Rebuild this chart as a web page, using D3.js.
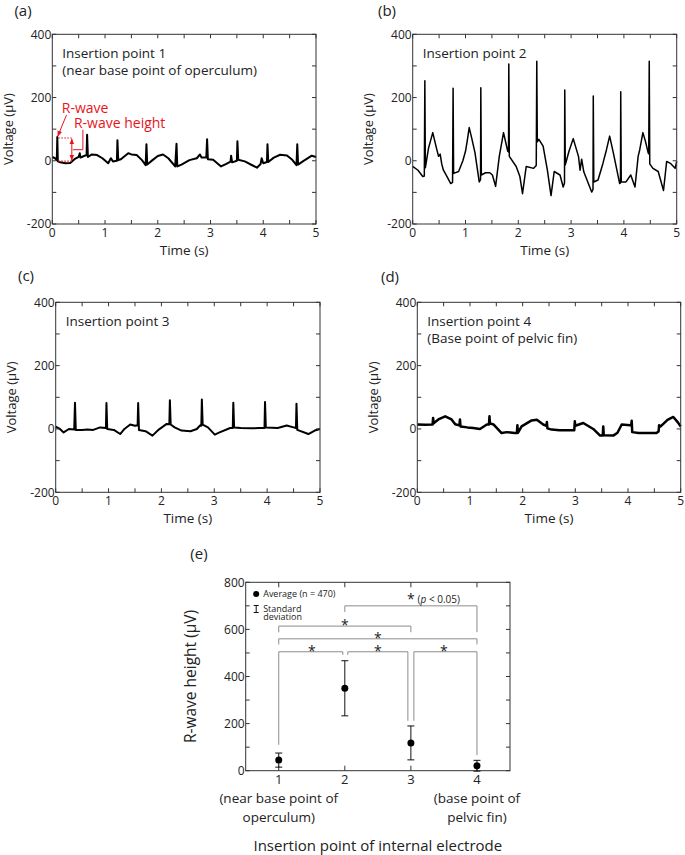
<!DOCTYPE html>
<html><head><meta charset="utf-8">
<script src="https://cdn.jsdelivr.net/npm/d3@7"></script>
<style>
body{margin:0;background:#fff;}
svg{display:block;font-family:"Open Sans","Noto Sans",sans-serif;}
</style></head><body>
<svg id="chart" width="685" height="855"></svg>
<script>
// ---------- DATA ----------
const timeTicks = [0,1,2,3,4,5];
const voltTicks = [-200,0,200,400];
const panelLetters = ["(a)","(b)","(c)","(d)"];
const panelTitles = [
  ["Insertion point 1","(near base point of operculum)"],
  ["Insertion point 2"],
  ["Insertion point 3"],
  ["Insertion point 4","(Base point of pelvic fin)"]
];
// traces: [time (s), voltage (µV)]
const traceA = [[0,12],[0.05,8],[0.085,2],[0.095,75],[0.105,-2],[0.15,-5],[0.25,-8],[0.34,-7],[0.42,5],[0.5,12],[0.52,24],[0.535,10],[0.6,15],[0.65,18],[0.66,82],[0.675,12],[0.75,20],[0.85,18],[0.95,8],[1.06,-8],[1.11,8],[1.15,-2],[1.225,0],[1.235,65],[1.25,2],[1.3,5],[1.44,24],[1.5,20],[1.6,18],[1.7,2],[1.77,-14],[1.785,52],[1.8,-12],[1.9,2],[2.0,15],[2.1,20],[2.2,8],[2.33,-18],[2.355,54],[2.37,-18],[2.45,-12],[2.6,2],[2.74,8],[2.8,20],[2.83,10],[2.92,10],[2.935,68],[2.95,5],[3.05,3],[3.2,-18],[3.3,-10],[3.38,-3],[3.39,16],[3.41,-5],[3.5,0],[3.51,62],[3.525,3],[3.65,-2],[3.8,-15],[3.88,-22],[3.95,-10],[3.97,8],[4.0,-8],[4.07,-4],[4.08,52],[4.095,-4],[4.2,10],[4.32,19],[4.45,17],[4.55,3],[4.63,-14],[4.645,52],[4.66,-12],[4.75,-2],[4.92,16],[5.0,12]];
const traceB = [[0,-18],[0.1,-30],[0.19,-50],[0.22,-48],[0.23,253],[0.24,-22],[0.3,40],[0.38,89],[0.45,40],[0.49,14],[0.52,21],[0.55,-10],[0.58,-29],[0.65,-50],[0.72,-72],[0.755,-68],[0.765,229],[0.775,-40],[0.87,-34],[0.95,0],[1.0,30],[1.03,60],[1.07,105],[1.12,70],[1.18,25],[1.26,-67],[1.285,-60],[1.29,231],[1.3,-45],[1.38,-38],[1.46,-38],[1.51,-45],[1.57,-81],[1.64,14],[1.72,89],[1.8,30],[1.815,28],[1.82,306],[1.83,14],[1.96,-18],[2.03,-50],[2.08,-104],[2.15,-18],[2.29,-24],[2.34,-15],[2.35,315],[2.36,60],[2.39,68],[2.47,46],[2.55,-29],[2.62,-110],[2.68,-34],[2.79,-45],[2.85,-83],[2.875,-70],[2.88,224],[2.89,-13],[2.96,30],[3.04,70],[3.14,14],[3.17,-30],[3.2,5],[3.24,-35],[3.39,-99],[3.415,-90],[3.42,205],[3.43,-67],[3.51,-61],[3.6,-10],[3.67,35],[3.73,78],[3.8,25],[3.92,-72],[3.935,-70],[3.94,218],[3.95,-67],[4.04,-67],[4.13,-45],[4.21,-83],[4.27,14],[4.3,35],[4.36,89],[4.41,60],[4.46,25],[4.47,22],[4.48,315],[4.49,-10],[4.55,-24],[4.65,-34],[4.75,-94],[4.81,-2],[4.88,-8],[4.97,-24],[5.0,-2]];
const traceC = [[0,7],[0.08,0],[0.15,-11],[0.25,0],[0.35,-2],[0.365,83],[0.38,-3],[0.5,-3],[0.6,-2],[0.71,-3],[0.84,5],[0.95,3],[0.96,82],[0.975,0],[1.1,-3],[1.22,-16],[1.3,0],[1.41,14],[1.5,10],[1.55,12],[1.56,82],[1.575,-3],[1.7,-7],[1.83,-21],[1.95,-2],[2.1,16],[2.15,15],[2.16,91],[2.175,14],[2.25,5],[2.38,-5],[2.55,-7],[2.67,0],[2.73,11],[2.755,10],[2.765,93],[2.78,14],[2.88,5],[3.01,-18],[3.1,-11],[3.3,3],[3.35,3],[3.36,83],[3.375,5],[3.5,3],[3.7,2],[3.85,3],[3.95,3],[3.96,85],[3.975,5],[4.2,3],[4.37,11],[4.5,5],[4.545,3],[4.555,80],[4.57,-3],[4.78,-16],[4.9,-5],[5.0,0]];
const traceD = [[0,14],[0.15,13],[0.27,14],[0.29,14],[0.3,35],[0.31,18],[0.4,30],[0.53,40],[0.65,30],[0.72,15],[0.78,12],[0.8,12],[0.81,30],[0.82,8],[0.95,5],[1.06,3],[1.19,0],[1.32,14],[1.36,14],[1.37,40],[1.38,17],[1.45,14],[1.6,-13],[1.7,-10],[1.85,-13],[1.89,-13],[1.9,12],[1.91,-12],[1.98,8],[2.17,27],[2.27,29],[2.39,14],[2.45,10],[2.46,22],[2.47,2],[2.55,-2],[2.7,-4],[2.9,-4],[2.98,-4],[2.99,24],[3.0,10],[3.15,19],[3.34,0],[3.47,-21],[3.52,-21],[3.53,8],[3.54,-20],[3.72,-21],[3.8,-12],[3.88,14],[4.04,12],[4.06,12],[4.07,26],[4.08,-10],[4.2,-13],[4.54,-13],[4.58,-8],[4.59,12],[4.62,8],[4.75,29],[4.86,38],[4.95,20],[5.0,8]];
// R-wave annotation (panel a): spike time, peak, baseline, measuring time
const rWave = {t:0.095, peak:72, base:-1, tMeas:0.37};

// panel (e)
const sites = [1,2,3,4];
const siteLabels = [["(near base point of","operculum)"],[],[],["(base point of","pelvic fin)"]];
const meanHeight = [45,350,118,21];
const sdHeight = [30,117,72,23];
const heightTicks = [0,200,400,600,800];
// significance brackets: [from, to, level, leg end at from, leg end at to, label]
const brackets = [
  [1,2,505,110,492,"*"],
  [2,3,505,492,212,"*"],
  [3,4,505,212,66,"*"],
  [1,4,560,536,536,"*"],
  [1,3,614,588,588,"*"],
  [2,4,700,674,588,"*p"]
];

// ---------- LAYOUT ----------
const svg = d3.select("#chart");
const panels = [
  {trace:traceA, x0:52.3, x1:316, yTop:34.3, yBot:224, lab:[23,11], sw:2.0},
  {trace:traceB, x0:412.7, x1:676.7, yTop:34.3, yBot:224, lab:[387,11], sw:1.5},
  {trace:traceC, x0:55.7, x1:320, yTop:302.3, yBot:492.3, lab:[26,276], sw:2.0},
  {trace:traceD, x0:417.3, x1:680.7, yTop:302.3, yBot:492.3, lab:[390,277], sw:2.5}
];
const red = "#e8141c";

panels.forEach((p,i)=>{
  const x = d3.scaleLinear().domain([0,5]).range([p.x0,p.x1]);
  const y = d3.scaleLinear().domain([-200,400]).range([p.yBot,p.yTop]);
  const g = svg.append("g");
  // trace
  g.append("path").datum(p.trace)
    .attr("d", d3.line().x(d=>x(d[0])).y(d=>y(d[1])))
    .attr("fill","none").attr("stroke","#000").attr("stroke-width",p.sw)
    .attr("stroke-linejoin","round");
  // frame
  g.append("rect").attr("x",p.x0).attr("y",p.yTop).attr("width",p.x1-p.x0).attr("height",p.yBot-p.yTop)
    .attr("fill","none").attr("stroke","#333").attr("stroke-width",1);
  // ticks inward
  const xt = d3.range(0,5.01,0.5), yt = d3.range(-200,401,100);
  xt.forEach(v=>{
    g.append("line").attr("x1",x(v)).attr("x2",x(v)).attr("y1",p.yBot).attr("y2",p.yBot-4).attr("stroke","#333");
    g.append("line").attr("x1",x(v)).attr("x2",x(v)).attr("y1",p.yTop).attr("y2",p.yTop+4).attr("stroke","#333");
  });
  yt.forEach(v=>{
    g.append("line").attr("x1",p.x0).attr("x2",p.x0+4).attr("y1",y(v)).attr("y2",y(v)).attr("stroke","#333");
    g.append("line").attr("x1",p.x1).attr("x2",p.x1-4).attr("y1",y(v)).attr("y2",y(v)).attr("stroke","#333");
  });
  // tick labels
  g.selectAll(".xl").data(timeTicks).enter().append("text")
    .attr("x",d=>x(d)).attr("y",p.yBot+12.5).attr("text-anchor","middle")
    .attr("font-size",12).attr("fill","#222").text(d=>d);
  g.selectAll(".yl").data(voltTicks).enter().append("text")
    .attr("x",p.x0-1).attr("y",d=>y(d)).attr("dy","0.35em").attr("text-anchor","end")
    .attr("font-size",12).attr("fill","#222").text(d=>d);
  // axis titles
  g.append("text").attr("x",(p.x0+p.x1)/2).attr("y",p.yBot+31).attr("text-anchor","middle")
    .attr("font-size",13.5).attr("fill","#222").text("Time (s)");
  g.append("text").attr("transform",`translate(${p.x0-44},${(p.yTop+p.yBot)/2}) rotate(-90)`)
    .attr("dy","0.35em").attr("text-anchor","middle").attr("font-size",13).attr("fill","#222").text("Voltage (μV)");
  // panel letter
  svg.append("text").attr("x",p.lab[0]).attr("y",p.lab[1]).attr("dy","0.35em").attr("text-anchor","middle")
    .attr("font-size",15).attr("fill","#222").text(panelLetters[i]);
  // in-plot titles
  panelTitles[i].forEach((s,k)=>{
    g.append("text").attr("x",p.x0+10).attr("y",p.yTop+23.5+k*17.5)
      .attr("font-size",13.5).attr("fill","#222").text(s);
  });
  if(i===0){
    // R-wave annotation
    const a = svg.append("g");
    const defs = svg.append("defs");
    defs.append("marker").attr("id","arr").attr("viewBox","0 0 10 10").attr("refX",9).attr("refY",5)
      .attr("markerWidth",6).attr("markerHeight",6).attr("orient","auto-start-reverse")
      .append("path").attr("d","M0,1 L10,5 L0,9 Z").attr("fill",red);
    a.append("line").attr("x1",x(rWave.t)+1).attr("x2",x(rWave.tMeas)).attr("y1",y(rWave.peak)).attr("y2",y(rWave.peak))
      .attr("stroke",red).attr("stroke-width",1.2).attr("stroke-dasharray","1.5,1.5");
    a.append("line").attr("x1",x(rWave.t)+1).attr("x2",x(rWave.tMeas)).attr("y1",y(rWave.base)).attr("y2",y(rWave.base))
      .attr("stroke",red).attr("stroke-width",1.2).attr("stroke-dasharray","1.5,1.5");
    a.append("line").attr("x1",x(rWave.tMeas)).attr("x2",x(rWave.tMeas)).attr("y1",y(rWave.peak)+1).attr("y2",y(rWave.base)-1)
      .attr("stroke",red).attr("stroke-width",1).attr("marker-start","url(#arr)").attr("marker-end","url(#arr)");
    a.append("line").attr("x1",x(0.27)).attr("y1",y(145)).attr("x2",x(rWave.t)+0.5).attr("y2",y(rWave.peak+6))
      .attr("stroke",red).attr("stroke-width",1).attr("marker-end","url(#arr)");
    a.append("path").attr("d",`M${x(0.58)},${y(98)} L${x(0.58)},${y(35)} L${x(rWave.tMeas)+1},${y(35)}`)
      .attr("fill","none").attr("stroke",red).attr("stroke-width",1);
    a.append("text").attr("x",x(0.18)).attr("y",y(152)).attr("font-size",14).attr("fill",red).text("R-wave");
    a.append("text").attr("x",x(0.41)).attr("y",y(104)).attr("font-size",14).attr("fill",red).text("R-wave height");
  }
});

// ---------- PANEL (e) ----------
const ex = d3.scaleLinear().domain([0.5,4.5]).range([245.7,510]);
const ey = d3.scaleLinear().domain([0,800]).range([770.7,582.3]);
const ge = svg.append("g");
ge.append("rect").attr("x",ex(0.5)).attr("y",ey(800)).attr("width",ex(4.5)-ex(0.5)).attr("height",ey(0)-ey(800))
  .attr("fill","none").attr("stroke","#333");
d3.range(0,801,100).forEach(v=>{
  ge.append("line").attr("x1",ex(0.5)).attr("x2",ex(0.5)+4).attr("y1",ey(v)).attr("y2",ey(v)).attr("stroke","#333");
  ge.append("line").attr("x1",ex(4.5)).attr("x2",ex(4.5)-4).attr("y1",ey(v)).attr("y2",ey(v)).attr("stroke","#333");
});
sites.forEach(s=>{
  ge.append("line").attr("x1",ex(s)).attr("x2",ex(s)).attr("y1",ey(0)).attr("y2",ey(0)-5).attr("stroke","#333");
  ge.append("line").attr("x1",ex(s)).attr("x2",ex(s)).attr("y1",ey(800)).attr("y2",ey(800)+5).attr("stroke","#333");
});
ge.selectAll(".hy").data(heightTicks).enter().append("text")
  .attr("x",ex(0.5)-1).attr("y",d=>ey(d)).attr("dy","0.35em").attr("text-anchor","end")
  .attr("font-size",12).attr("fill","#222").text(d=>d);
ge.selectAll(".hx").data(sites).enter().append("text")
  .attr("x",d=>ex(d)).attr("y",ey(0)+13).attr("text-anchor","middle")
  .attr("font-size",13).attr("fill","#222").text(d=>d);
sites.forEach((s,i)=>{
  siteLabels[i].forEach((t,k)=>{
    ge.append("text").attr("x",ex(s)).attr("y",ey(0)+32+k*19).attr("text-anchor","middle")
      .attr("font-size",13.5).attr("fill","#222").text(t);
  });
});
ge.append("text").attr("x",(ex(0.5)+ex(4.5))/2).attr("y",851).attr("text-anchor","middle")
  .attr("font-size",15).attr("fill","#222").text("Insertion point of internal electrode");
ge.append("text").attr("transform",`translate(191,${(ey(0)+ey(800))/2}) rotate(-90)`).attr("dy","0.35em")
  .attr("text-anchor","middle").attr("font-size",15.5).attr("fill","#222").text("R-wave height (μV)");
svg.append("text").attr("x",199).attr("y",554).attr("dy","0.35em").attr("text-anchor","middle")
  .attr("font-size",15).attr("fill","#222").text("(e)");

// brackets
const off = {"1-2":[0,-2],"2-3":[3,-3],"3-4":[3,0]};
brackets.forEach(b=>{
  const o = off[b[0]+"-"+b[1]] || [0,0];
  const xa = ex(b[0])+o[0], xb = ex(b[1])+o[1], yl = ey(b[2]);
  ge.append("path").attr("d",`M${xa},${ey(b[3])} L${xa},${yl} L${xb},${yl} L${xb},${ey(b[4])}`)
    .attr("fill","none").attr("stroke","#8c8c8c").attr("stroke-width",1);
  let xm = (ex(b[0])+ex(b[1]))/2;
  if(b[0]===1 && b[1]===3) xm = ex(2);
  if(b[5]==="*p"){
    const t = ge.append("text").attr("x",ex(3)-4).attr("y",yl-2).attr("font-size",10).attr("fill","#222");
    t.append("tspan").attr("font-size",14).text("*");
    t.append("tspan").attr("dx",3).attr("dy",-1).text("(");
    t.append("tspan").attr("font-style","italic").text("p");
    t.append("tspan").text(" < 0.05)");
  } else {
    ge.append("text").attr("x",xm).attr("y",yl+4).attr("text-anchor","middle")
      .attr("font-size",14).attr("fill","#222").text(b[5]);
  }
});

// error bars and points
sites.forEach((s,i)=>{
  const lo = ey(meanHeight[i]-sdHeight[i]), hi = ey(meanHeight[i]+sdHeight[i]);
  ge.append("line").attr("x1",ex(s)).attr("x2",ex(s)).attr("y1",lo).attr("y2",hi).attr("stroke","#111");
  [lo,hi].forEach(yy=>ge.append("line").attr("x1",ex(s)-3.5).attr("x2",ex(s)+3.5).attr("y1",yy).attr("y2",yy).attr("stroke","#111"));
  ge.append("circle").attr("cx",ex(s)).attr("cy",ey(meanHeight[i])).attr("r",3.5).attr("fill","#000");
});

// legend
const lx = ex(0.5)+10.5;
ge.append("circle").attr("cx",lx).attr("cy",594).attr("r",3).attr("fill","#000");
ge.append("text").attr("x",lx+7).attr("y",594).attr("dy","0.35em").attr("font-size",9).attr("fill","#222").text("Average (n = 470)");
ge.append("line").attr("x1",lx).attr("x2",lx).attr("y1",605.5).attr("y2",612.5).attr("stroke","#111");
[605.5,612.5].forEach(yy=>ge.append("line").attr("x1",lx-2.5).attr("x2",lx+2.5).attr("y1",yy).attr("y2",yy).attr("stroke","#111"));
ge.append("text").attr("x",lx+7).attr("y",609).attr("dy","0.35em").attr("font-size",9).attr("fill","#222").text("Standard");
ge.append("text").attr("x",lx+7).attr("y",617).attr("dy","0.35em").attr("font-size",9).attr("fill","#222").text("deviation");
</script></body></html>
